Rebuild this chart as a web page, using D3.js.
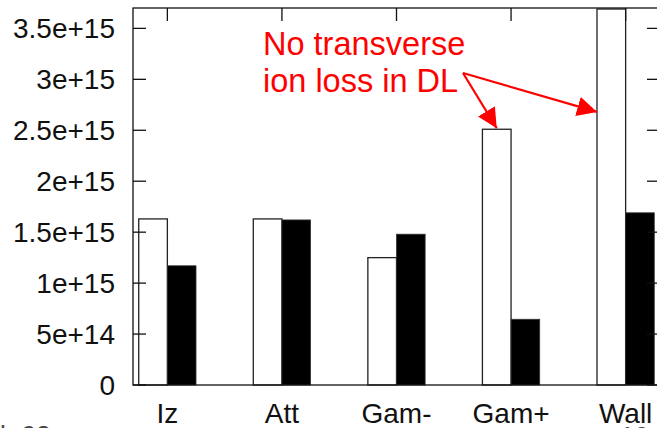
<!DOCTYPE html>
<html lang="en">
<head>
  <meta charset="UTF-8">
  <title>Ion loss channels</title>
  <style>
    body, html {
      margin: 0;
      padding: 0;
      background: white;
    }
    svg {
      display: block;
      font-family: "Liberation Sans", Arial, sans-serif;
    }
  </style>
</head>
<body>
  <script src="https://d3js.org/d3.v7.min.js"></script>
  <script>
    // chart data
    const categories = ['Iz', 'Att', 'Gam-', 'Gam+', 'Wall'];
    const withLoss = [1.63e15, 1.63e15, 1.25e15, 2.51e15, 3.69e15];   // open bars
    const noLoss = [1.17e15, 1.62e15, 1.48e15, 0.645e15, 1.69e15];    // filled bars
    const yTicks = [0, 5e14, 1e15, 1.5e15, 2e15, 2.5e15, 3e15, 3.5e15];
    const yTickLabels = ['0', '5e+14', '1e+15', '1.5e+15', '2e+15', '2.5e+15', '3e+15', '3.5e+15'];

    const width = 657;
    const height = 428;
    const plotLeft = 133, plotRight = 660, plotTop = 8, plotBottom = 385;

    const svg = d3.select('body')
      .append('svg')
      .attr('width', width)
      .attr('height', height);

    // x in category units, bars sit either side of each integer
    const x = d3.scaleLinear().domain([-0.3, 4.3]).range([plotLeft, plotRight]);
    const y = d3.scaleLinear().domain([0, 3.7e15]).range([plotBottom, plotTop]);
    const barW = 0.25;

    // bars
    svg.append('g').selectAll('rect')
      .data(withLoss)
      .enter()
      .append('rect')
      .attr('x', (d, i) => x(i - barW))
      .attr('y', d => y(d))
      .attr('width', x(barW) - x(0))
      .attr('height', d => y(0) - y(d))
      .attr('fill', 'white')
      .attr('stroke', '#222')
      .attr('stroke-width', 1.3);

    svg.append('g').selectAll('rect')
      .data(noLoss)
      .enter()
      .append('rect')
      .attr('x', (d, i) => x(i))
      .attr('y', d => y(d))
      .attr('width', x(barW) - x(0))
      .attr('height', d => y(0) - y(d))
      .attr('fill', 'black')
      .attr('stroke', '#333')
      .attr('stroke-width', 0.8);

    // frame and ticks
    const frame = svg.append('g')
      .attr('stroke', '#111')
      .attr('stroke-width', 1.3);

    frame.append('rect')
      .attr('x', plotLeft)
      .attr('y', plotTop)
      .attr('width', plotRight - plotLeft)
      .attr('height', plotBottom - plotTop)
      .attr('fill', 'none');

    yTicks.forEach(t => {
      frame.append('line').attr('x1', plotLeft).attr('x2', plotLeft + 13)
        .attr('y1', y(t)).attr('y2', y(t));
      frame.append('line').attr('x1', plotRight).attr('x2', plotRight - 13)
        .attr('y1', y(t)).attr('y2', y(t));
    });

    categories.forEach((c, i) => {
      frame.append('line').attr('x1', x(i)).attr('x2', x(i))
        .attr('y1', plotTop).attr('y2', plotTop + 13);
    });

    // tick labels
    svg.append('g').selectAll('text')
      .data(yTicks)
      .enter()
      .append('text')
      .attr('x', 115)
      .attr('y', d => y(d) + 9.5)
      .attr('text-anchor', 'end')
      .attr('font-size', 28)
      .attr('fill', '#111')
      .text((d, i) => yTickLabels[i]);

    svg.append('g').selectAll('text')
      .data(categories)
      .enter()
      .append('text')
      .attr('x', (d, i) => x(i))
      .attr('y', 423)
      .attr('text-anchor', 'middle')
      .attr('font-size', 28)
      .attr('fill', '#111')
      .text(d => d);

    // annotation
    const red = '#ff0000';
    svg.append('defs').append('marker')
      .attr('id', 'head')
      .attr('viewBox', '0 0 10 10')
      .attr('refX', 10)
      .attr('refY', 5)
      .attr('markerWidth', 9)
      .attr('markerHeight', 9)
      .attr('markerUnits', 'strokeWidth')
      .attr('orient', 'auto')
      .append('path')
      .attr('d', 'M0,0 L10,5 L0,10 Z')
      .attr('fill', red);

    const note = svg.append('g')
      .attr('fill', red)
      .attr('font-size', 32.5);
    note.append('text').attr('x', 263).attr('y', 55).text('No transverse');
    note.append('text').attr('x', 263).attr('y', 92).text('ion loss in DL');

    const tail = [463, 73];
    const targets = [[x(3 - barW / 2), y(withLoss[3]) - 1], [x(4 - barW), y(2.68e15)]];
    targets.forEach(([tx, ty]) => {
      svg.append('line')
        .attr('x1', tail[0]).attr('y1', tail[1])
        .attr('x2', tx).attr('y2', ty)
        .attr('stroke', red)
        .attr('stroke-width', 2.2)
        .attr('marker-end', 'url(#head)');
    });

    // clipped fragments of surrounding page text
    svg.append('text').attr('x', 0).attr('y', 444)
      .attr('font-size', 26).attr('fill', '#444').text('h  98');
    svg.append('text').attr('x', 620).attr('y', 445)
      .attr('font-size', 26).attr('fill', '#444').text('10');
  </script>
</body>
</html>
